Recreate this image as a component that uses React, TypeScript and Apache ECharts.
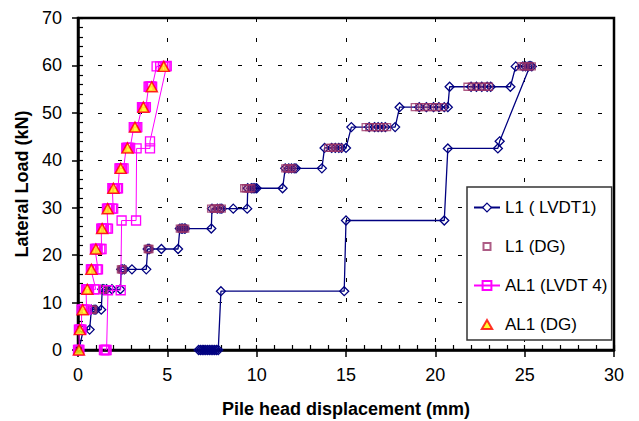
import React, { useEffect, useRef } from 'react';
import * as echarts from 'echarts';

// L1 (LVDT1): first loading path (navy diamonds)
const l1LvdtA: number[][] = [
  [0, 0], [0.05, 0],
  [0.3, 4.3], [0.65, 4.3],
  [0.75, 8.5], [0.9, 8.5], [1.0, 8.5], [1.3, 8.5],
  [1.36, 12.8], [1.45, 12.8], [1.6, 12.8], [1.9, 12.8], [2.37, 12.8],
  [2.42, 17.0], [2.5, 17.0], [2.6, 17.0], [3.02, 17.0], [3.82, 17.0],
  [3.9, 21.3], [3.95, 21.3], [4.0, 21.3], [4.67, 21.3], [5.6, 21.3],
  [5.7, 25.6], [5.8, 25.6], [5.85, 25.6], [5.95, 25.6], [6.0, 25.6], [7.46, 25.6],
  [7.5, 29.8], [7.8, 29.8], [7.95, 29.8], [8.05, 29.8], [8.69, 29.8], [9.47, 29.8],
  [9.5, 34.1], [9.7, 34.1], [9.8, 34.1], [9.9, 34.1], [10.0, 34.1], [11.45, 34.1],
  [11.6, 38.3], [11.8, 38.3], [11.95, 38.3], [12.1, 38.3], [12.2, 38.3], [13.65, 38.3],
  [13.8, 42.6], [14.2, 42.6], [14.4, 42.6], [14.6, 42.6], [14.75, 42.6], [15.0, 42.6],
  [15.3, 47.0], [16.3, 47.0], [16.6, 47.0], [16.8, 47.0], [17.0, 47.0], [17.2, 47.0], [17.75, 47.0],
  [18.0, 51.2], [19.1, 51.2], [19.5, 51.2], [19.9, 51.2], [20.2, 51.2], [20.5, 51.2], [20.7, 51.2],
  [20.8, 55.5], [22.0, 55.5], [22.3, 55.5], [22.6, 55.5], [22.9, 55.5], [23.1, 55.5], [24.2, 55.5],
  [24.5, 59.8], [24.9, 59.8], [25.05, 59.8], [25.2, 59.8], [25.4, 59.8],
];
// L1 (LVDT1): second path
const l1LvdtB: number[][] = [
  [6.75, 0], [6.85, 0], [6.95, 0], [7.05, 0], [7.15, 0], [7.25, 0], [7.35, 0],
  [7.45, 0], [7.55, 0], [7.65, 0], [7.75, 0], [7.85, 0],
  [8.0, 12.4], [14.9, 12.4], [15.0, 27.3], [20.5, 27.3],
  [20.7, 42.5], [23.5, 42.5], [23.6, 44.0], [25.3, 59.9],
];
// L1 (DG): purple squares
const l1Dg: number[][] = [
  [0.05, 0],
  [0.75, 8.5], [0.8, 8.5], [0.85, 8.5],
  [1.36, 12.8], [1.4, 12.8], [1.45, 12.8],
  [2.4, 17.0], [2.45, 17.0], [2.5, 17.0],
  [3.9, 21.3], [3.95, 21.3], [4.0, 21.3],
  [5.7, 25.6], [5.8, 25.6], [5.9, 25.6], [6.0, 25.6],
  [7.45, 29.8], [7.6, 29.8], [7.7, 29.8], [7.8, 29.8], [7.9, 29.8], [8.05, 29.8],
  [9.3, 34.1], [9.4, 34.1], [9.5, 34.1], [9.6, 34.1], [9.7, 34.1],
  [11.6, 38.3], [11.7, 38.3], [11.8, 38.3], [11.9, 38.3], [12.0, 38.3],
  [14.0, 42.6], [14.15, 42.6], [14.3, 42.6], [14.45, 42.6], [14.6, 42.6],
  [16.1, 47.0], [16.3, 47.0], [16.5, 47.0], [16.7, 47.0], [16.9, 47.0], [17.1, 47.0], [17.3, 47.0],
  [18.85, 51.2], [19.1, 51.2], [19.35, 51.2], [19.6, 51.2], [19.85, 51.2], [20.1, 51.2], [20.4, 51.2],
  [21.8, 55.5], [22.05, 55.5], [22.3, 55.5], [22.55, 55.5], [22.8, 55.5], [23.0, 55.5],
  [24.8, 59.8], [24.95, 59.8], [25.1, 59.8], [25.25, 59.8], [25.4, 59.8],
];
// AL1 (LVDT 4): first loading path (magenta squares)
const al1LvdtA: number[][] = [
  [0, 0], [0.04, 0], [0.08, 0],
  [0.05, 4.3], [0.1, 4.3], [0.15, 4.3], [0.2, 4.3],
  [0.2, 8.5], [0.25, 8.5], [0.3, 8.5], [0.38, 8.5], [0.48, 8.5],
  [0.45, 12.8], [0.5, 12.8], [0.55, 12.8], [0.62, 12.8], [0.9, 12.8], [1.0, 12.8],
  [0.72, 17.0], [0.76, 17.0], [0.8, 17.0], [0.86, 17.0], [1.05, 17.0], [1.12, 17.0],
  [0.95, 21.3], [1.0, 21.3], [1.05, 21.3], [1.1, 21.3], [1.25, 21.3], [1.32, 21.3],
  [1.3, 25.6], [1.35, 25.6], [1.4, 25.6], [1.45, 25.6], [1.6, 25.6], [1.68, 25.6],
  [1.62, 29.8], [1.67, 29.8], [1.72, 29.8], [1.77, 29.8], [1.9, 29.8], [1.97, 29.8],
  [1.92, 34.1], [1.97, 34.1], [2.02, 34.1], [2.07, 34.1], [2.18, 34.1], [2.24, 34.1],
  [2.32, 38.3], [2.37, 38.3], [2.42, 38.3], [2.47, 38.3], [2.55, 38.3],
  [2.7, 42.6], [2.75, 42.6], [2.8, 42.6], [2.85, 42.6], [2.92, 42.6],
  [3.12, 47.0], [3.17, 47.0], [3.22, 47.0], [3.27, 47.0], [3.32, 47.0],
  [3.58, 51.2], [3.63, 51.2], [3.68, 51.2], [3.73, 51.2], [3.8, 51.2],
  [3.95, 55.5], [4.0, 55.5], [4.05, 55.5], [4.1, 55.5], [4.15, 55.5],
  [4.4, 59.8], [4.6, 59.8], [4.75, 59.8], [4.85, 59.8], [4.95, 59.8],
];
// AL1 (LVDT 4): second path
const al1LvdtB: number[][] = [
  [1.45, 0], [1.5, 0], [1.55, 0], [1.6, 0],
  [1.68, 12.6], [2.39, 12.6], [2.44, 27.3], [3.25, 27.3],
  [3.28, 42.5], [4.03, 42.5], [4.03, 44.0], [4.96, 59.9],
];
// AL1 (DG): triangles
const al1Dg: number[][] = [
  [0.05, 0], [0.1, 4.3], [0.26, 8.5], [0.52, 12.8], [0.75, 17.0],
  [1.0, 21.3], [1.35, 25.6], [1.66, 29.8], [1.98, 34.1], [2.39, 38.3],
  [2.77, 42.6], [3.19, 47.0], [3.66, 51.2], [4.13, 55.5], [4.8, 59.8],
];

const seriesNames = ['L1 ( LVDT1)', 'L1 (DG)', 'AL1 (LVDT 4)', 'AL1 (DG)'];
const xTitle = 'Pile head displacement (mm)';
const yTitle = 'Lateral Load (kN)';

export default function App() {
  const ref = useRef<HTMLDivElement>(null);
  useEffect(() => {
    const chart = echarts.init(ref.current!, null, { renderer: 'svg' });
    const font = 'Liberation Sans, Arial, sans-serif';
    const navy = '#000080';
    const purple = '#993366';
    const magenta = '#FF00FF';
    const clear = 'rgba(255,255,255,0)';
    const grid = {
      left: 78, right: 25, top: 18, bottom: 71,
      show: true, borderColor: '#000', borderWidth: 2.5,
      containLabel: false, outerBoundsMode: 'none',
    };
    const dash = { color: '#000', width: 1, type: [4, 16] };
    const lvdt1Style = {
      type: 'line', name: seriesNames[0], symbol: 'diamond', symbolSize: 9,
      itemStyle: { color: clear, borderColor: navy, borderWidth: 1.3 },
      lineStyle: { color: navy, width: 1.3 }, z: 3,
    };
    const lvdt4Style = {
      type: 'line', name: seriesNames[2], symbol: 'rect', symbolSize: 9,
      itemStyle: { color: clear, borderColor: magenta, borderWidth: 1.3 },
      lineStyle: { color: magenta, width: 1 }, z: 5,
    };
    const squareIcon = 'path://M0,0M26,11M9.5,2L16.5,2L16.5,9L9.5,9Z';
    const triangleIcon = 'path://M0,0M26,11M13,1L18.2,10L7.8,10Z';
    const option = {
      animation: false,
      backgroundColor: '#fff',
      textStyle: { fontFamily: font },
      grid,
      legend: {
        data: [
          { name: seriesNames[0], itemStyle: { color: '#fff', borderColor: navy, borderWidth: 1.2 } },
          { name: seriesNames[1], icon: squareIcon },
          { name: seriesNames[2] },
          { name: seriesNames[3], icon: triangleIcon },
        ],
        orient: 'vertical',
        left: 467, top: 187,
        padding: [12, 4, 7, 6],
        itemGap: 22,
        itemWidth: 26, itemHeight: 11,
        symbolKeepAspect: true,
        backgroundColor: '#fff',
        borderColor: '#333', borderWidth: 1.5, borderRadius: 0,
        textStyle: { fontSize: 17, color: '#000', fontFamily: font },
      },
      xAxis: [
        {
          type: 'value', min: 0, max: 30, interval: 5,
          name: xTitle, nameLocation: 'middle', nameGap: 50,
          nameTextStyle: { fontSize: 18, fontWeight: 'bold', color: '#000', fontFamily: font },
          axisLine: { show: true, lineStyle: { color: '#000', width: 2.5 } },
          axisTick: { show: true, inside: false, length: 7, lineStyle: { color: '#000', width: 1.5 } },
          axisLabel: { fontSize: 18, color: '#000', margin: 16, fontFamily: font },
          splitLine: { show: true, lineStyle: dash },
        },
        {
          type: 'value', min: 0, max: 30, interval: 1, position: 'bottom',
          axisLine: { show: false },
          axisTick: { show: true, inside: true, length: 5, lineStyle: { color: '#000', width: 1.2 } },
          axisLabel: { show: false },
          splitLine: { show: false },
        },
      ],
      yAxis: [
        {
          type: 'value', min: 0, max: 70, interval: 10,
          name: yTitle, nameLocation: 'middle', nameGap: 40,
          nameTextStyle: { fontSize: 18, fontWeight: 'bold', color: '#000', fontFamily: font },
          axisLine: { show: true, lineStyle: { color: '#000', width: 2.5 } },
          axisTick: { show: true, inside: false, length: 6, lineStyle: { color: '#000', width: 1.5 } },
          axisLabel: { fontSize: 18, color: '#000', margin: 16, fontFamily: font },
          splitLine: { show: true, lineStyle: dash },
        },
        {
          type: 'value', min: 0, max: 70, interval: 2, position: 'left',
          axisLine: { show: false },
          axisTick: { show: true, inside: true, length: 5, lineStyle: { color: '#000', width: 1.2 } },
          axisLabel: { show: false },
          splitLine: { show: false },
        },
      ],
      series: [
        { ...lvdt1Style, data: l1LvdtA },
        { ...lvdt1Style, data: l1LvdtB },
        {
          type: 'scatter', name: seriesNames[1], symbol: 'rect', symbolSize: 7,
          itemStyle: { color: clear, borderColor: purple, borderWidth: 1.3 }, z: 4,
          data: l1Dg,
        },
        { ...lvdt4Style, data: al1LvdtA },
        { ...lvdt4Style, data: al1LvdtB },
        {
          type: 'scatter', name: seriesNames[3], symbol: 'triangle', symbolSize: [11, 10],
          itemStyle: { color: '#FFFF00', borderColor: '#FF0000', borderWidth: 1.5 }, z: 6,
          data: al1Dg,
        },
      ],
    };
    chart.setOption(option as any);
    return () => chart.dispose();
  }, []);
  return (
    <div
      ref={ref}
      style={{ position: 'fixed', left: 0, top: 0, width: 639, height: 421, background: '#fff' }}
    />
  );
}
